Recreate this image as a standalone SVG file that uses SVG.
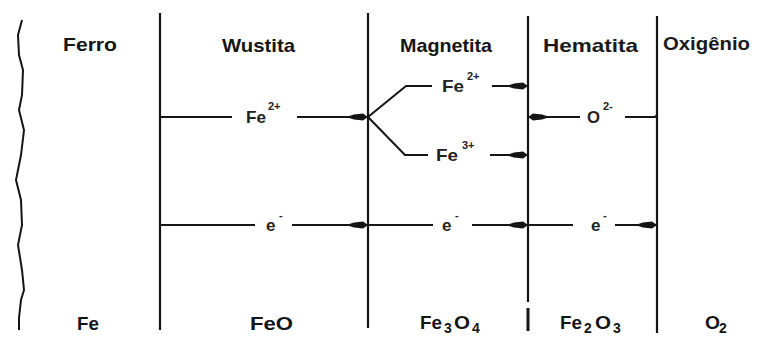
<svg xmlns="http://www.w3.org/2000/svg" width="762" height="337" viewBox="0 0 762 337">
<defs>
<style>
.ln{stroke:#151515;stroke-width:2;fill:none;stroke-linecap:butt}
.bd{stroke:#151515;stroke-width:2.2;fill:none}
.lab{font-family:"Liberation Sans",Arial,sans-serif;font-weight:bold;font-size:19px;fill:#151515}
.labr{font-family:"Liberation Sans",Arial,sans-serif;font-weight:bold;font-size:19px;fill:#1a1a1a}
.ion{font-family:"Liberation Sans",Arial,sans-serif;font-weight:bold;font-size:17px;fill:#222}
.sup{font-family:"Liberation Sans",Arial,sans-serif;font-weight:bold;font-size:11px;fill:#222}
.sub{font-family:"Liberation Sans",Arial,sans-serif;font-weight:bold;font-size:14px;fill:#151515}
</style>
<marker id="ah" viewBox="0 0 22 8" refX="22" refY="4" markerWidth="22" markerHeight="8" markerUnits="userSpaceOnUse" orient="auto">
<path d="M0,4 L8,1.5 L17,0.5 L22,4 L17,7.5 L8,6.5 Z" fill="#151515"/>
</marker>
</defs>
<rect width="762" height="337" fill="#fff"/>

<g id="boundaries">
<path class="ln" d="M22,20 L18,35 L19,55 L23,70 L22,95 L19,110 L24,130 L21,155 L16,180 L21,200 L22,225 L18,245 L22,270 L24,290 L21,300 L19,318 L19,330"/>
<line class="bd" x1="160" y1="13" x2="160" y2="330"/>
<line class="bd" x1="368" y1="13" x2="368" y2="328"/>
<line class="bd" x1="528" y1="16" x2="528" y2="302"/>
<line class="bd" x1="528" y1="308" x2="528" y2="331" style="stroke-width:3"/>
<line class="bd" x1="657" y1="16" x2="657" y2="333"/>
</g>

<g id="ferro">
<text class="lab" x="63" y="51" textLength="54" lengthAdjust="spacingAndGlyphs">Ferro</text>
<text class="lab" x="77" y="330" textLength="22" lengthAdjust="spacingAndGlyphs">Fe</text>
</g>

<g id="wustita">
<text class="lab" x="222" y="52" textLength="73" lengthAdjust="spacingAndGlyphs">Wustita</text>
<text class="lab" x="250" y="330" textLength="43" lengthAdjust="spacingAndGlyphs">FeO</text>
</g>

<g id="magnetita">
<text class="lab" x="400" y="52" textLength="92" lengthAdjust="spacingAndGlyphs">Magnetita</text>
<text class="lab" x="420" y="329" textLength="22" lengthAdjust="spacingAndGlyphs">Fe</text>
<text class="sub" x="444" y="333">3</text>
<text class="lab" x="454" y="329" textLength="16" lengthAdjust="spacingAndGlyphs">O</text>
<text class="sub" x="472" y="333">4</text>
</g>

<g id="hematita">
<text class="labr" x="543" y="52" textLength="95" lengthAdjust="spacingAndGlyphs">Hematita</text>
<text class="lab" x="560" y="329" textLength="22" lengthAdjust="spacingAndGlyphs">Fe</text>
<text class="sub" x="584" y="333">2</text>
<text class="lab" x="595" y="329" textLength="16" lengthAdjust="spacingAndGlyphs">O</text>
<text class="sub" x="613" y="333">3</text>
</g>

<g id="oxigenio">
<text class="labr" x="663" y="50" textLength="87" lengthAdjust="spacingAndGlyphs">Oxigênio</text>
<text class="lab" x="705" y="329" textLength="15" lengthAdjust="spacingAndGlyphs">O</text>
<text class="sub" x="719" y="333">2</text>
</g>

<g id="connectors">
<line class="ln" x1="160" y1="117" x2="232" y2="117"/>
<line class="ln" x1="297" y1="117" x2="368" y2="117" marker-end="url(#ah)"/>
<polyline class="ln" points="368,117 406,86 432,86"/>
<line class="ln" x1="492" y1="86" x2="528" y2="86" marker-end="url(#ah)"/>
<polyline class="ln" points="368,117 405,155 428,155"/>
<line class="ln" x1="490" y1="155" x2="528" y2="155" marker-end="url(#ah)"/>
<line class="ln" x1="580" y1="117" x2="528" y2="117" marker-end="url(#ah)"/>
<polyline class="ln" points="625,117 655,117 657,115"/>
<line class="ln" x1="160" y1="225" x2="255" y2="225"/>
<line class="ln" x1="292" y1="225" x2="368" y2="225" marker-end="url(#ah)"/>
<line class="ln" x1="368" y1="225" x2="433" y2="225"/>
<line class="ln" x1="472" y1="225" x2="528" y2="225" marker-end="url(#ah)"/>
<line class="ln" x1="528" y1="225" x2="573" y2="225"/>
<line class="ln" x1="615" y1="225" x2="657" y2="225" marker-end="url(#ah)"/>
</g>

<g id="ion-labels">
<text class="ion" x="246" y="123" textLength="20" lengthAdjust="spacingAndGlyphs">Fe</text>
<text class="sup" x="268" y="110">2+</text>
<text class="ion" x="442" y="92" textLength="22" lengthAdjust="spacingAndGlyphs">Fe</text>
<text class="sup" x="467" y="80">2+</text>
<text class="ion" x="436" y="161" textLength="22" lengthAdjust="spacingAndGlyphs">Fe</text>
<text class="sup" x="462" y="149">3+</text>
<text class="ion" x="587" y="123" textLength="13" lengthAdjust="spacingAndGlyphs">O</text>
<text class="sup" x="603" y="110">2-</text>
<text class="ion" x="266" y="231">e</text>
<text class="sup" x="279" y="219">-</text>
<text class="ion" x="442" y="231">e</text>
<text class="sup" x="455" y="219">-</text>
<text class="ion" x="591" y="231">e</text>
<text class="sup" x="603" y="219">-</text>
</g>
</svg>
